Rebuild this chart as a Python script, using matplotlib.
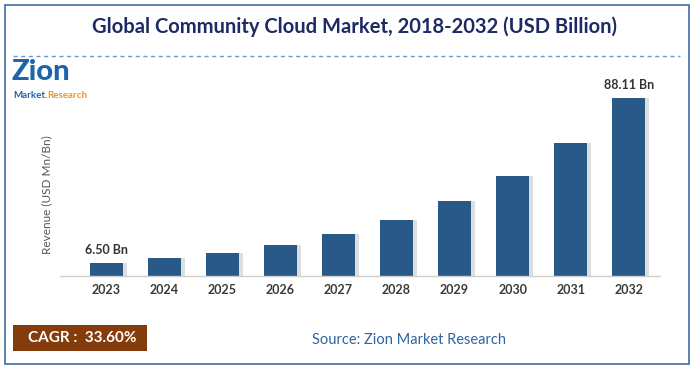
import matplotlib.pyplot as plt
from matplotlib.patches import Rectangle

years = ["2023", "2024", "2025", "2026", "2027", "2028", "2029", "2030", "2031", "2032"]
revenue = [6.50, 8.68, 11.60, 15.50, 20.70, 27.70, 37.00, 49.40, 66.00, 88.11]
value_labels = {0: "6.50 Bn", 9: "88.11 Bn"}

W, H = 699, 371
FONT = ["Lato", "DejaVu Sans"]
BAR = "#285987"

fig = plt.figure(figsize=(W / 100, H / 100), dpi=100)
fig.patch.set_facecolor("white")


def px(x, y):
    # pixel coords (top-left origin) -> figure fraction
    return x / W, 1 - y / H


# outer frame
fig.patches.append(Rectangle(px(5, 364), 684 / W, 359 / H, transform=fig.transFigure,
                             fill=False, edgecolor="#4f77a5", linewidth=1.3))

# title + dashed rule
fig.text(*px(354, 27), "Global Community Cloud Market, 2018-2032 (USD Billion)",
         ha="center", va="center", fontsize=14.5, fontweight="bold", color="#1c2a66", family=FONT)
fig.add_artist(plt.Line2D([13 / W, 680 / W], [1 - 56 / H] * 2, transform=fig.transFigure,
                          color="#6e98c8", linewidth=1, linestyle=(0, (3, 2.5))))

# logo (text approximation)
fig.text(*px(11, 72), "Zion", ha="left", va="center", fontsize=21, fontweight="black",
         color="#1d64ad", family=FONT)
t1 = fig.text(*px(13, 95), "Market.", ha="left", va="center", fontsize=7, fontweight="bold",
              color="#1d64ad", family=FONT)
fig.canvas.draw()
bb = t1.get_window_extent()
fig.text(bb.x1 / W, 1 - 95 / H, "Research", ha="left", va="center", fontsize=7,
         fontweight="bold", color="#f0922b", family=FONT)

# chart
ax = fig.add_axes([60 / W, 95 / H, 600 / W, 196 / H])
x = list(range(len(years)))
# soft shadow
ax.bar([i + 0.07 for i in x], revenue, width=0.57, color="#c8c8c8", alpha=0.6, zorder=1)
bars = ax.bar(x, revenue, width=0.57, color=BAR, zorder=2)
for i, txt in value_labels.items():
    ax.text(i, revenue[i] + 3.2, txt, ha="center", va="bottom", fontsize=9, fontweight="bold",
            color="#333333", family=FONT)

ax.set_xlim(-0.80, 9.54)
ax.set_ylim(0, 97.0)
ax.set_xticks(x)
ax.set_xticklabels(years, fontsize=9, fontweight="bold", color="#3a3a3a", family=FONT)
ax.tick_params(axis="x", length=0, pad=6)
ax.set_yticks([])
for s in ["top", "right", "left"]:
    ax.spines[s].set_visible(False)
ax.spines["bottom"].set_color("#cfcfcf")
ax.spines["bottom"].set_linewidth(1)
fig.text(*px(47, 195), "Revenue (USD Mn/Bn)", rotation=90, ha="center", va="center",
         fontsize=8.5, color="#555555", family=FONT)

# CAGR box and source
fig.patches.append(Rectangle(px(13, 351), 134 / W, 26 / H, transform=fig.transFigure,
                             facecolor="#843c0c", edgecolor="none"))
fig.text(*px(82, 338), "CAGR :  33.60%", ha="center", va="center", fontsize=11,
         fontweight="bold", color="white", family=FONT)
fig.text(*px(409, 340), "Source: Zion Market Research", ha="center", va="center",
         fontsize=10.5, color="#2e64a0", family=FONT)

fig.savefig("out.png", dpi=100)
